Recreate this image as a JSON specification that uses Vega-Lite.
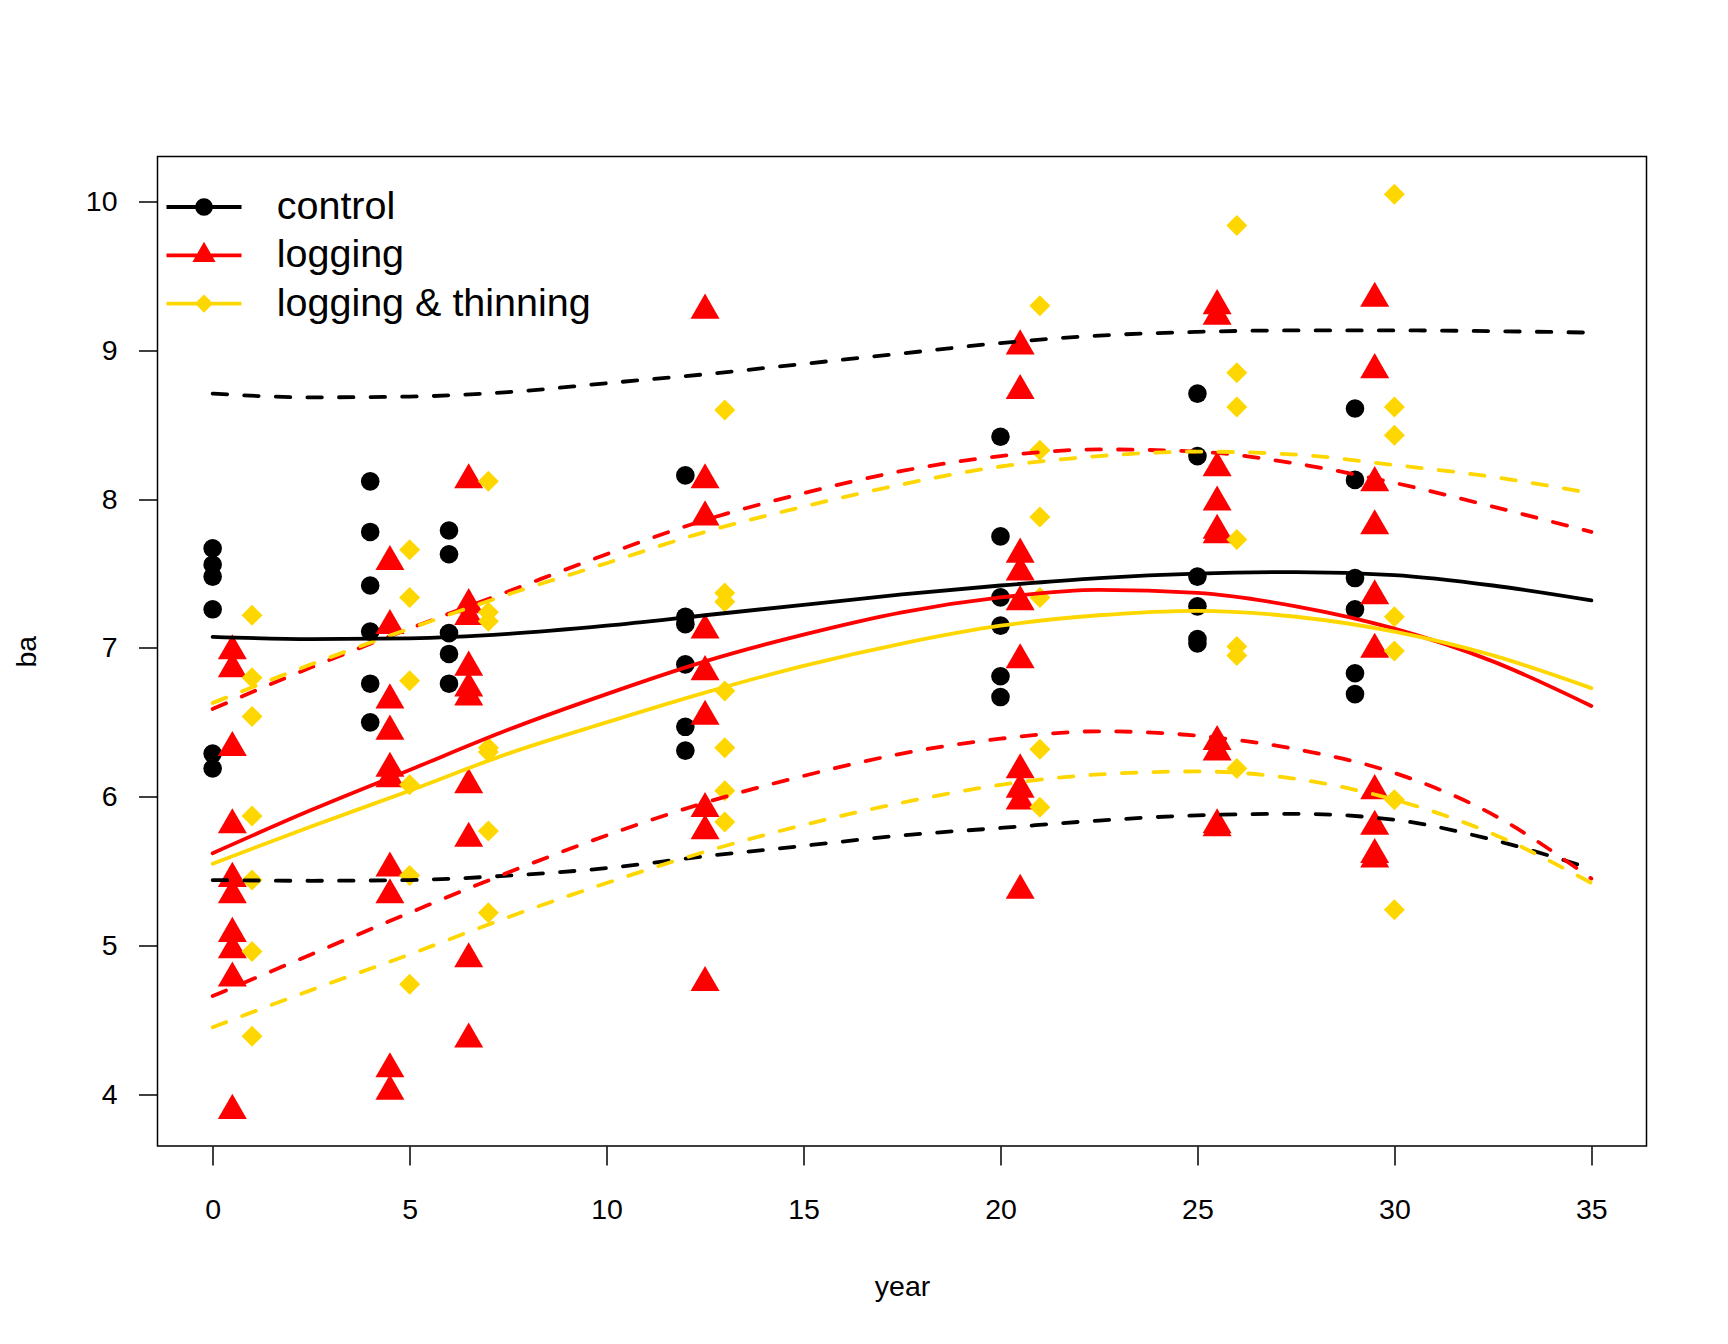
{
  "$schema": "https://vega.github.io/schema/vega-lite/v6.json",
  "width": 1489,
  "height": 989.5,
  "autosize": {"type": "none"},
  "padding": {"left": 157.5, "top": 156.5, "right": 81.5, "bottom": 198},
  "background": "white",
  "config": {
    "font": "Liberation Sans",
    "view": {"stroke": "black", "strokeWidth": 1.5}
  },
  "datasets": {
    "pts": [
      {"x": 0, "ba": 7.67, "group": "control"}, {"x": 0, "ba": 7.56, "group": "control"}, {"x": 0, "ba": 7.48, "group": "control"}, {"x": 0, "ba": 7.26, "group": "control"}, {"x": 0, "ba": 6.29, "group": "control"}, {"x": 0, "ba": 6.19, "group": "control"},
      {"x": 4, "ba": 8.12, "group": "control"}, {"x": 4, "ba": 7.78, "group": "control"}, {"x": 4, "ba": 7.42, "group": "control"}, {"x": 4, "ba": 7.11, "group": "control"}, {"x": 4, "ba": 6.76, "group": "control"}, {"x": 4, "ba": 6.5, "group": "control"},
      {"x": 6, "ba": 7.79, "group": "control"}, {"x": 6, "ba": 7.63, "group": "control"}, {"x": 6, "ba": 7.1, "group": "control"}, {"x": 6, "ba": 6.96, "group": "control"}, {"x": 6, "ba": 6.76, "group": "control"},
      {"x": 12, "ba": 8.16, "group": "control"}, {"x": 12, "ba": 7.21, "group": "control"}, {"x": 12, "ba": 7.16, "group": "control"}, {"x": 12, "ba": 6.89, "group": "control"}, {"x": 12, "ba": 6.47, "group": "control"}, {"x": 12, "ba": 6.31, "group": "control"},
      {"x": 20, "ba": 8.42, "group": "control"}, {"x": 20, "ba": 7.75, "group": "control"}, {"x": 20, "ba": 7.34, "group": "control"}, {"x": 20, "ba": 7.15, "group": "control"}, {"x": 20, "ba": 6.81, "group": "control"}, {"x": 20, "ba": 6.67, "group": "control"},
      {"x": 25, "ba": 8.71, "group": "control"}, {"x": 25, "ba": 8.29, "group": "control"}, {"x": 25, "ba": 7.48, "group": "control"}, {"x": 25, "ba": 7.28, "group": "control"}, {"x": 25, "ba": 7.06, "group": "control"}, {"x": 25, "ba": 7.03, "group": "control"},
      {"x": 29, "ba": 8.61, "group": "control"}, {"x": 29, "ba": 8.13, "group": "control"}, {"x": 29, "ba": 7.47, "group": "control"}, {"x": 29, "ba": 7.26, "group": "control"}, {"x": 29, "ba": 6.83, "group": "control"}, {"x": 29, "ba": 6.69, "group": "control"},
      {"x": 0.5, "ba": 6.98, "group": "logging"}, {"x": 0.5, "ba": 6.86, "group": "logging"}, {"x": 0.5, "ba": 6.33, "group": "logging"}, {"x": 0.5, "ba": 5.81, "group": "logging"}, {"x": 0.5, "ba": 5.45, "group": "logging"}, {"x": 0.5, "ba": 5.34, "group": "logging"}, {"x": 0.5, "ba": 5.08, "group": "logging"}, {"x": 0.5, "ba": 4.97, "group": "logging"}, {"x": 0.5, "ba": 4.78, "group": "logging"}, {"x": 0.5, "ba": 3.89, "group": "logging"},
      {"x": 4.5, "ba": 7.58, "group": "logging"}, {"x": 4.5, "ba": 7.15, "group": "logging"}, {"x": 4.5, "ba": 6.65, "group": "logging"}, {"x": 4.5, "ba": 6.44, "group": "logging"}, {"x": 4.5, "ba": 6.19, "group": "logging"}, {"x": 4.5, "ba": 6.12, "group": "logging"}, {"x": 4.5, "ba": 5.52, "group": "logging"}, {"x": 4.5, "ba": 5.34, "group": "logging"}, {"x": 4.5, "ba": 4.17, "group": "logging"}, {"x": 4.5, "ba": 4.02, "group": "logging"},
      {"x": 6.5, "ba": 8.13, "group": "logging"}, {"x": 6.5, "ba": 7.29, "group": "logging"}, {"x": 6.5, "ba": 7.21, "group": "logging"}, {"x": 6.5, "ba": 6.87, "group": "logging"}, {"x": 6.5, "ba": 6.73, "group": "logging"}, {"x": 6.5, "ba": 6.67, "group": "logging"}, {"x": 6.5, "ba": 6.08, "group": "logging"}, {"x": 6.5, "ba": 5.72, "group": "logging"}, {"x": 6.5, "ba": 4.91, "group": "logging"}, {"x": 6.5, "ba": 4.37, "group": "logging"},
      {"x": 12.5, "ba": 9.27, "group": "logging"}, {"x": 12.5, "ba": 8.13, "group": "logging"}, {"x": 12.5, "ba": 7.88, "group": "logging"}, {"x": 12.5, "ba": 7.12, "group": "logging"}, {"x": 12.5, "ba": 6.84, "group": "logging"}, {"x": 12.5, "ba": 6.54, "group": "logging"}, {"x": 12.5, "ba": 5.92, "group": "logging"}, {"x": 12.5, "ba": 5.77, "group": "logging"}, {"x": 12.5, "ba": 4.75, "group": "logging"},
      {"x": 20.5, "ba": 9.03, "group": "logging"}, {"x": 20.5, "ba": 8.73, "group": "logging"}, {"x": 20.5, "ba": 7.63, "group": "logging"}, {"x": 20.5, "ba": 7.51, "group": "logging"}, {"x": 20.5, "ba": 7.31, "group": "logging"}, {"x": 20.5, "ba": 6.92, "group": "logging"}, {"x": 20.5, "ba": 6.18, "group": "logging"}, {"x": 20.5, "ba": 6.05, "group": "logging"}, {"x": 20.5, "ba": 5.97, "group": "logging"}, {"x": 20.5, "ba": 5.37, "group": "logging"},
      {"x": 25.5, "ba": 9.3, "group": "logging"}, {"x": 25.5, "ba": 9.23, "group": "logging"}, {"x": 25.5, "ba": 8.21, "group": "logging"}, {"x": 25.5, "ba": 7.98, "group": "logging"}, {"x": 25.5, "ba": 7.79, "group": "logging"}, {"x": 25.5, "ba": 7.76, "group": "logging"}, {"x": 25.5, "ba": 6.37, "group": "logging"}, {"x": 25.5, "ba": 6.3, "group": "logging"}, {"x": 25.5, "ba": 5.81, "group": "logging"}, {"x": 25.5, "ba": 5.79, "group": "logging"},
      {"x": 29.5, "ba": 9.35, "group": "logging"}, {"x": 29.5, "ba": 8.87, "group": "logging"}, {"x": 29.5, "ba": 8.11, "group": "logging"}, {"x": 29.5, "ba": 7.82, "group": "logging"}, {"x": 29.5, "ba": 7.35, "group": "logging"}, {"x": 29.5, "ba": 6.99, "group": "logging"}, {"x": 29.5, "ba": 6.04, "group": "logging"}, {"x": 29.5, "ba": 5.8, "group": "logging"}, {"x": 29.5, "ba": 5.61, "group": "logging"}, {"x": 29.5, "ba": 5.58, "group": "logging"},
      {"x": 1, "ba": 7.22, "group": "logging & thinning"}, {"x": 1, "ba": 6.8, "group": "logging & thinning"}, {"x": 1, "ba": 6.54, "group": "logging & thinning"}, {"x": 1, "ba": 5.87, "group": "logging & thinning"}, {"x": 1, "ba": 5.44, "group": "logging & thinning"}, {"x": 1, "ba": 4.96, "group": "logging & thinning"}, {"x": 1, "ba": 4.39, "group": "logging & thinning"},
      {"x": 5, "ba": 7.66, "group": "logging & thinning"}, {"x": 5, "ba": 7.34, "group": "logging & thinning"}, {"x": 5, "ba": 6.78, "group": "logging & thinning"}, {"x": 5, "ba": 6.08, "group": "logging & thinning"}, {"x": 5, "ba": 5.47, "group": "logging & thinning"}, {"x": 5, "ba": 4.74, "group": "logging & thinning"},
      {"x": 7, "ba": 8.12, "group": "logging & thinning"}, {"x": 7, "ba": 7.24, "group": "logging & thinning"}, {"x": 7, "ba": 7.18, "group": "logging & thinning"}, {"x": 7, "ba": 6.33, "group": "logging & thinning"}, {"x": 7, "ba": 6.3, "group": "logging & thinning"}, {"x": 7, "ba": 5.77, "group": "logging & thinning"}, {"x": 7, "ba": 5.22, "group": "logging & thinning"},
      {"x": 13, "ba": 8.6, "group": "logging & thinning"}, {"x": 13, "ba": 7.37, "group": "logging & thinning"}, {"x": 13, "ba": 7.31, "group": "logging & thinning"}, {"x": 13, "ba": 6.71, "group": "logging & thinning"}, {"x": 13, "ba": 6.33, "group": "logging & thinning"}, {"x": 13, "ba": 6.04, "group": "logging & thinning"}, {"x": 13, "ba": 5.83, "group": "logging & thinning"},
      {"x": 21, "ba": 9.3, "group": "logging & thinning"}, {"x": 21, "ba": 8.33, "group": "logging & thinning"}, {"x": 21, "ba": 7.88, "group": "logging & thinning"}, {"x": 21, "ba": 7.34, "group": "logging & thinning"}, {"x": 21, "ba": 6.32, "group": "logging & thinning"}, {"x": 21, "ba": 5.93, "group": "logging & thinning"},
      {"x": 26, "ba": 9.84, "group": "logging & thinning"}, {"x": 26, "ba": 8.85, "group": "logging & thinning"}, {"x": 26, "ba": 8.62, "group": "logging & thinning"}, {"x": 26, "ba": 7.73, "group": "logging & thinning"}, {"x": 26, "ba": 7.01, "group": "logging & thinning"}, {"x": 26, "ba": 6.95, "group": "logging & thinning"}, {"x": 26, "ba": 6.19, "group": "logging & thinning"},
      {"x": 30, "ba": 10.05, "group": "logging & thinning"}, {"x": 30, "ba": 8.62, "group": "logging & thinning"}, {"x": 30, "ba": 8.43, "group": "logging & thinning"}, {"x": 30, "ba": 7.21, "group": "logging & thinning"}, {"x": 30, "ba": 6.98, "group": "logging & thinning"}, {"x": 30, "ba": 5.98, "group": "logging & thinning"}, {"x": 30, "ba": 5.24, "group": "logging & thinning"}
    ],
    "curves": [
      {"x": 0, "ba": 7.075, "group": "control", "band": "fit"}, {"x": 2.5, "ba": 7.06, "group": "control", "band": "fit"}, {"x": 5, "ba": 7.065, "group": "control", "band": "fit"}, {"x": 7.5, "ba": 7.095, "group": "control", "band": "fit"}, {"x": 10, "ba": 7.15, "group": "control", "band": "fit"}, {"x": 12.5, "ba": 7.22, "group": "control", "band": "fit"}, {"x": 15, "ba": 7.29, "group": "control", "band": "fit"}, {"x": 17.5, "ba": 7.36, "group": "control", "band": "fit"}, {"x": 20, "ba": 7.42, "group": "control", "band": "fit"}, {"x": 22.5, "ba": 7.47, "group": "control", "band": "fit"}, {"x": 25, "ba": 7.5, "group": "control", "band": "fit"}, {"x": 27.5, "ba": 7.51, "group": "control", "band": "fit"}, {"x": 30, "ba": 7.49, "group": "control", "band": "fit"}, {"x": 32.5, "ba": 7.42, "group": "control", "band": "fit"}, {"x": 35, "ba": 7.32, "group": "control", "band": "fit"},
      {"x": 0, "ba": 8.71, "group": "control", "band": "upper"}, {"x": 2.5, "ba": 8.685, "group": "control", "band": "upper"}, {"x": 5, "ba": 8.69, "group": "control", "band": "upper"}, {"x": 7.5, "ba": 8.72, "group": "control", "band": "upper"}, {"x": 10, "ba": 8.78, "group": "control", "band": "upper"}, {"x": 12.5, "ba": 8.84, "group": "control", "band": "upper"}, {"x": 15, "ba": 8.91, "group": "control", "band": "upper"}, {"x": 17.5, "ba": 8.98, "group": "control", "band": "upper"}, {"x": 20, "ba": 9.05, "group": "control", "band": "upper"}, {"x": 22.5, "ba": 9.1, "group": "control", "band": "upper"}, {"x": 25, "ba": 9.125, "group": "control", "band": "upper"}, {"x": 27.5, "ba": 9.135, "group": "control", "band": "upper"}, {"x": 30, "ba": 9.135, "group": "control", "band": "upper"}, {"x": 32.5, "ba": 9.13, "group": "control", "band": "upper"}, {"x": 35, "ba": 9.12, "group": "control", "band": "upper"},
      {"x": 0, "ba": 5.44, "group": "control", "band": "lower"}, {"x": 2.5, "ba": 5.435, "group": "control", "band": "lower"}, {"x": 5, "ba": 5.44, "group": "control", "band": "lower"}, {"x": 7.5, "ba": 5.47, "group": "control", "band": "lower"}, {"x": 10, "ba": 5.52, "group": "control", "band": "lower"}, {"x": 12.5, "ba": 5.6, "group": "control", "band": "lower"}, {"x": 15, "ba": 5.67, "group": "control", "band": "lower"}, {"x": 17.5, "ba": 5.74, "group": "control", "band": "lower"}, {"x": 20, "ba": 5.79, "group": "control", "band": "lower"}, {"x": 22.5, "ba": 5.84, "group": "control", "band": "lower"}, {"x": 25, "ba": 5.875, "group": "control", "band": "lower"}, {"x": 27.5, "ba": 5.885, "group": "control", "band": "lower"}, {"x": 30, "ba": 5.845, "group": "control", "band": "lower"}, {"x": 32.5, "ba": 5.71, "group": "control", "band": "lower"}, {"x": 35, "ba": 5.515, "group": "control", "band": "lower"},
      {"x": 0, "ba": 5.62, "group": "logging", "band": "fit"}, {"x": 2.5, "ba": 5.91, "group": "logging", "band": "fit"}, {"x": 5, "ba": 6.18, "group": "logging", "band": "fit"}, {"x": 7.5, "ba": 6.45, "group": "logging", "band": "fit"}, {"x": 10, "ba": 6.69, "group": "logging", "band": "fit"}, {"x": 12.5, "ba": 6.91, "group": "logging", "band": "fit"}, {"x": 15, "ba": 7.09, "group": "logging", "band": "fit"}, {"x": 17.5, "ba": 7.24, "group": "logging", "band": "fit"}, {"x": 20, "ba": 7.34, "group": "logging", "band": "fit"}, {"x": 22.5, "ba": 7.39, "group": "logging", "band": "fit"}, {"x": 25, "ba": 7.37, "group": "logging", "band": "fit"}, {"x": 27.5, "ba": 7.28, "group": "logging", "band": "fit"}, {"x": 30, "ba": 7.13, "group": "logging", "band": "fit"}, {"x": 32.5, "ba": 6.91, "group": "logging", "band": "fit"}, {"x": 35, "ba": 6.61, "group": "logging", "band": "fit"},
      {"x": 0, "ba": 6.59, "group": "logging", "band": "upper"}, {"x": 2.5, "ba": 6.87, "group": "logging", "band": "upper"}, {"x": 5, "ba": 7.13, "group": "logging", "band": "upper"}, {"x": 7.5, "ba": 7.38, "group": "logging", "band": "upper"}, {"x": 10, "ba": 7.63, "group": "logging", "band": "upper"}, {"x": 12.5, "ba": 7.86, "group": "logging", "band": "upper"}, {"x": 15, "ba": 8.04, "group": "logging", "band": "upper"}, {"x": 17.5, "ba": 8.19, "group": "logging", "band": "upper"}, {"x": 20, "ba": 8.29, "group": "logging", "band": "upper"}, {"x": 22.5, "ba": 8.335, "group": "logging", "band": "upper"}, {"x": 25, "ba": 8.32, "group": "logging", "band": "upper"}, {"x": 27.5, "ba": 8.24, "group": "logging", "band": "upper"}, {"x": 30, "ba": 8.11, "group": "logging", "band": "upper"}, {"x": 32.5, "ba": 7.95, "group": "logging", "band": "upper"}, {"x": 35, "ba": 7.78, "group": "logging", "band": "upper"},
      {"x": 0, "ba": 4.66, "group": "logging", "band": "lower"}, {"x": 2.5, "ba": 4.94, "group": "logging", "band": "lower"}, {"x": 5, "ba": 5.22, "group": "logging", "band": "lower"}, {"x": 7.5, "ba": 5.49, "group": "logging", "band": "lower"}, {"x": 10, "ba": 5.74, "group": "logging", "band": "lower"}, {"x": 12.5, "ba": 5.96, "group": "logging", "band": "lower"}, {"x": 15, "ba": 6.14, "group": "logging", "band": "lower"}, {"x": 17.5, "ba": 6.29, "group": "logging", "band": "lower"}, {"x": 20, "ba": 6.39, "group": "logging", "band": "lower"}, {"x": 22.5, "ba": 6.44, "group": "logging", "band": "lower"}, {"x": 25, "ba": 6.41, "group": "logging", "band": "lower"}, {"x": 27.5, "ba": 6.32, "group": "logging", "band": "lower"}, {"x": 30, "ba": 6.16, "group": "logging", "band": "lower"}, {"x": 32.5, "ba": 5.88, "group": "logging", "band": "lower"}, {"x": 35, "ba": 5.45, "group": "logging", "band": "lower"},
      {"x": 0, "ba": 5.55, "group": "logging & thinning", "band": "fit"}, {"x": 2.5, "ba": 5.8, "group": "logging & thinning", "band": "fit"}, {"x": 5, "ba": 6.04, "group": "logging & thinning", "band": "fit"}, {"x": 7.5, "ba": 6.29, "group": "logging & thinning", "band": "fit"}, {"x": 10, "ba": 6.5, "group": "logging & thinning", "band": "fit"}, {"x": 12.5, "ba": 6.7, "group": "logging & thinning", "band": "fit"}, {"x": 15, "ba": 6.88, "group": "logging & thinning", "band": "fit"}, {"x": 17.5, "ba": 7.03, "group": "logging & thinning", "band": "fit"}, {"x": 20, "ba": 7.15, "group": "logging & thinning", "band": "fit"}, {"x": 22.5, "ba": 7.22, "group": "logging & thinning", "band": "fit"}, {"x": 25, "ba": 7.25, "group": "logging & thinning", "band": "fit"}, {"x": 27.5, "ba": 7.21, "group": "logging & thinning", "band": "fit"}, {"x": 30, "ba": 7.11, "group": "logging & thinning", "band": "fit"}, {"x": 32.5, "ba": 6.95, "group": "logging & thinning", "band": "fit"}, {"x": 35, "ba": 6.73, "group": "logging & thinning", "band": "fit"},
      {"x": 0, "ba": 6.63, "group": "logging & thinning", "band": "upper"}, {"x": 2.5, "ba": 6.89, "group": "logging & thinning", "band": "upper"}, {"x": 5, "ba": 7.13, "group": "logging & thinning", "band": "upper"}, {"x": 7.5, "ba": 7.36, "group": "logging & thinning", "band": "upper"}, {"x": 10, "ba": 7.57, "group": "logging & thinning", "band": "upper"}, {"x": 12.5, "ba": 7.78, "group": "logging & thinning", "band": "upper"}, {"x": 15, "ba": 7.95, "group": "logging & thinning", "band": "upper"}, {"x": 17.5, "ba": 8.1, "group": "logging & thinning", "band": "upper"}, {"x": 20, "ba": 8.22, "group": "logging & thinning", "band": "upper"}, {"x": 22.5, "ba": 8.29, "group": "logging & thinning", "band": "upper"}, {"x": 25, "ba": 8.32, "group": "logging & thinning", "band": "upper"}, {"x": 27.5, "ba": 8.3, "group": "logging & thinning", "band": "upper"}, {"x": 30, "ba": 8.23, "group": "logging & thinning", "band": "upper"}, {"x": 32.5, "ba": 8.15, "group": "logging & thinning", "band": "upper"}, {"x": 35, "ba": 8.04, "group": "logging & thinning", "band": "upper"},
      {"x": 0, "ba": 4.45, "group": "logging & thinning", "band": "lower"}, {"x": 2.5, "ba": 4.7, "group": "logging & thinning", "band": "lower"}, {"x": 5, "ba": 4.94, "group": "logging & thinning", "band": "lower"}, {"x": 7.5, "ba": 5.19, "group": "logging & thinning", "band": "lower"}, {"x": 10, "ba": 5.42, "group": "logging & thinning", "band": "lower"}, {"x": 12.5, "ba": 5.63, "group": "logging & thinning", "band": "lower"}, {"x": 15, "ba": 5.81, "group": "logging & thinning", "band": "lower"}, {"x": 17.5, "ba": 5.96, "group": "logging & thinning", "band": "lower"}, {"x": 20, "ba": 6.08, "group": "logging & thinning", "band": "lower"}, {"x": 22.5, "ba": 6.15, "group": "logging & thinning", "band": "lower"}, {"x": 25, "ba": 6.17, "group": "logging & thinning", "band": "lower"}, {"x": 27.5, "ba": 6.12, "group": "logging & thinning", "band": "lower"}, {"x": 30, "ba": 5.98, "group": "logging & thinning", "band": "lower"}, {"x": 32.5, "ba": 5.75, "group": "logging & thinning", "band": "lower"}, {"x": 35, "ba": 5.42, "group": "logging & thinning", "band": "lower"}
    ]
  },
  "encoding": {
    "x": {
      "field": "x", "type": "quantitative",
      "scale": {"domain": [-1.4, 36.4], "nice": false, "zero": false},
      "axis": {
        "title": "year", "values": [0, 5, 10, 15, 20, 25, 30, 35],
        "grid": false, "domain": false, "ticks": true,
        "tickSize": 19, "tickWidth": 1.5, "tickColor": "black",
        "labelFont": "Liberation Sans", "labelFontSize": 28.5, "labelColor": "black", "labelPadding": 30,
        "labelFlush": false, "labelOverlap": false,
        "titleFont": "Liberation Sans", "titleFontSize": 28.5, "titleFontWeight": "normal", "titleColor": "black",
        "titleY": 149, "titleBaseline": "alphabetic"
      }
    },
    "y": {
      "field": "ba", "type": "quantitative",
      "scale": {"domain": [3.652, 10.304], "nice": false, "zero": false},
      "axis": {
        "title": "ba", "values": [4, 5, 6, 7, 8, 9, 10],
        "grid": false, "domain": false, "ticks": true,
        "tickSize": 19, "tickWidth": 1.5, "tickColor": "black",
        "labelFont": "Liberation Sans", "labelFontSize": 28.5, "labelColor": "black", "labelPadding": 21.5,
        "labelFlush": false, "labelOverlap": false,
        "titleFont": "Liberation Sans", "titleFontSize": 28.5, "titleFontWeight": "normal", "titleColor": "black",
        "titleX": -122.5, "titleBaseline": "alphabetic", "titleAngle": 270
      }
    }
  },
  "layer": [
    {
      "data": {"name": "pts"},
      "transform": [{"filter": "datum.group === 'control'"}],
      "mark": {"type": "point", "shape": "circle", "size": 346, "filled": true, "opacity": 1, "strokeWidth": 0},
      "encoding": {
        "color": {
          "field": "group", "type": "nominal",
          "scale": {"domain": ["control", "logging", "logging & thinning"], "range": ["#000000", "#FF0000", "#FFD700"]},
          "legend": {
            "orient": "none", "legendX": 26.5, "legendY": 30.5, "title": null, "padding": 0,
            "symbolSize": 1600, "symbolStrokeWidth": 0, "symbolOpacity": 1,
            "labelFont": "Liberation Sans", "labelFontSize": 39.5, "labelColor": "black", "labelOffset": 52.7, "labelLimit": 2000,
            "rowPadding": 8.3,
            "encoding": {
              "symbols": {
                "shape": {
                  "condition": [
                    {"test": "datum.value === 'control'", "value": "M-1.875,-0.095L1.875,-0.095L1.875,0.095L-1.875,0.095Z M0.4425,0L0.4088,0.1693L0.3129,0.3129L0.1693,0.4088L0,0.4425L-0.1693,0.4088L-0.3129,0.3129L-0.4088,0.1693L-0.4425,0L-0.4088,-0.1693L-0.3129,-0.3129L-0.1693,-0.4088L0,-0.4425L0.1693,-0.4088L0.3129,-0.3129L0.4088,-0.1693Z"},
                    {"test": "datum.value === 'logging'", "value": "M-1.875,-0.095L1.875,-0.095L1.875,0.095L-1.875,0.095Z M0,-0.6725L0.5825,0.3365L-0.5825,0.3365Z"}
                  ],
                  "value": "M-1.875,-0.095L1.875,-0.095L1.875,0.095L-1.875,0.095Z M0,-0.4575L0.4575,0L0,0.4575L-0.4575,0Z"
                }
              }
            }
          }
        }
      }
    },
    {
      "data": {"name": "pts"},
      "transform": [{"filter": "datum.group === 'logging'"}],
      "mark": {"type": "point", "shape": "triangle", "size": 841, "filled": true, "opacity": 1, "strokeWidth": 0},
      "encoding": {
        "color": {"field": "group", "type": "nominal", "scale": {"domain": ["control", "logging", "logging & thinning"], "range": ["#000000", "#FF0000", "#FFD700"]}, "legend": null}
      }
    },
    {
      "data": {"name": "pts"},
      "transform": [{"filter": "datum.group === 'logging & thinning'"}],
      "mark": {"type": "point", "shape": "diamond", "size": 441, "filled": true, "opacity": 1, "strokeWidth": 0},
      "encoding": {
        "color": {"field": "group", "type": "nominal", "scale": {"domain": ["control", "logging", "logging & thinning"], "range": ["#000000", "#FF0000", "#FFD700"]}, "legend": null}
      }
    },
    {
      "data": {"name": "curves"},
      "transform": [{"filter": "datum.band !== 'fit'"}],
      "mark": {"type": "line", "strokeWidth": 3.8, "strokeDash": [14.5, 17.1], "strokeCap": "round", "strokeJoin": "round", "interpolate": "monotone"},
      "encoding": {
        "color": {"field": "group", "type": "nominal", "scale": {"domain": ["control", "logging", "logging & thinning"], "range": ["#000000", "#FF0000", "#FFD700"]}, "legend": null},
        "detail": {"field": "band", "type": "nominal"}
      }
    },
    {
      "data": {"name": "curves"},
      "transform": [{"filter": "datum.band === 'fit'"}],
      "mark": {"type": "line", "strokeWidth": 3.8, "strokeCap": "round", "strokeJoin": "round", "interpolate": "monotone"},
      "encoding": {
        "color": {"field": "group", "type": "nominal", "scale": {"domain": ["control", "logging", "logging & thinning"], "range": ["#000000", "#FF0000", "#FFD700"]}, "legend": null},
        "detail": {"field": "band", "type": "nominal"}
      }
    }
  ]
}
